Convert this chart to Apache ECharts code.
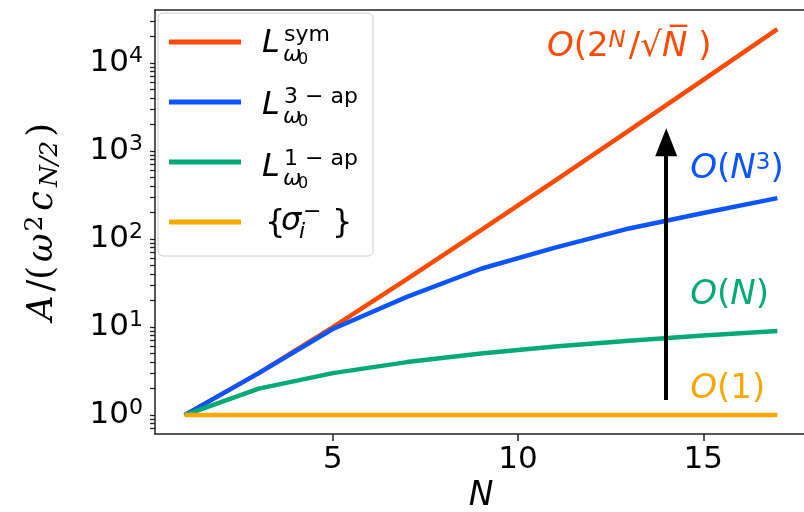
<!DOCTYPE html>
<html>
<head>
<meta charset="utf-8">
<script src="https://cdn.jsdelivr.net/npm/echarts@6/dist/echarts.min.js"></script>
<style>
  html, body { margin: 0; padding: 0; background: #fff; }
  #chart { width: 804px; height: 512px; }
</style>
</head>
<body>
<div id="chart"></div>
<script>
// data
const nValues = [1, 3, 5, 7, 9, 11, 13, 15, 17];
const symValues = [1, 3, 10, 35, 126, 462, 1716, 6435, 24310];
const ap3Values = [1, 3, 9.5, 22, 46, 80, 132, 198, 292];
const ap1Values = [1, 2, 3, 4, 5, 6, 7, 8, 9];
const sigmaValues = [1, 1, 1, 1, 1, 1, 1, 1, 1];

const xTicks = [5, 10, 15];
const yMajorTicks = [1, 10, 100, 1000, 10000];
const yTickExponents = ['0', '1', '2', '3', '4'];
const yMinorTicks = [0.7, 0.8, 0.9, 2, 3, 4, 5, 6, 7, 8, 9, 20, 30, 40, 50, 60, 70, 80, 90,
  200, 300, 400, 500, 600, 700, 800, 900, 2000, 3000, 4000, 5000, 6000, 7000, 8000, 9000,
  20000, 30000];

const seriesNames = ['sym', 'ap3', 'ap1', 'sigma'];
const colors = ['#ff4a00', '#0a55ff', '#00aa77', '#f8a800'];
// legend label pieces: superscript of L for the first three rows
const legendSups = ['sym', '3 − ap', '1 − ap'];

// annotation anchors [N, value] (left edge of text)
const annoSym = [10.78, 15100];
const annoAp3 = [14.65, 624];
const annoAp1 = [14.65, 23];
const annoSigma = [14.65, 1.97];
const arrowFrom = [14, 1.48];
const arrowTo = [14, 1260];

const FONT = 'DejaVu Sans';

const myChart = echarts.init(document.getElementById('chart'));

function pairs(ys) {
  return nValues.map((n, i) => [n, ys[i]]);
}

function anno(coord, text, color) {
  return {
    symbol: 'circle',
    symbolSize: 0,
    silent: true,
    data: [{ coord: coord }],
    label: {
      show: true,
      position: 'right',
      distance: 0,
      color: color,
      fontFamily: FONT,
      fontSize: 34,
      formatter: text,
      rich: {
        o: { fontSize: 34, fontStyle: 'italic', color: color, fontFamily: FONT, lineHeight: 36 },
        n: { fontSize: 34, color: color, fontFamily: FONT, lineHeight: 36 },
        s: { fontSize: 23, color: color, fontFamily: FONT, verticalAlign: 'top', lineHeight: 12 },
        si: { fontSize: 23, color: color, fontFamily: FONT, fontStyle: 'italic', verticalAlign: 'top', lineHeight: 12, padding: [0, 3, 0, 0] }
      }
    }
  };
}

// text piece placed by its baseline (canvas middle sits ~0.3em above the baseline)
function piece(text, x, baseline, size, italic) {
  return {
    type: 'text',
    silent: true,
    z: 100,
    style: {
      text: text,
      x: x,
      y: baseline - 0.3 * size,
      fill: '#000',
      font: (italic ? 'italic ' : '') + size + 'px "DejaVu Sans"',
      align: 'left',
      verticalAlign: 'middle'
    }
  };
}

// math labels beside the legend icons
const legendLabels = [];
[53, 115, 177].forEach((b, i) => {
  legendLabels.push(piece('L', 262, b, 32, true));
  legendLabels.push(piece(legendSups[i], 284, b - 11, 22, false));
  legendLabels.push(piece('ω', 283, b + 9, 22, true));
  legendLabels.push(piece('0', 298, b + 12, 16, false));
});
legendLabels.push(piece('{', 265, 233, 32, false));
legendLabels.push(piece('σ', 281, 231, 32, true));
legendLabels.push(piece('−', 303, 219, 22, false));
legendLabels.push(piece('i', 299, 239, 22, true));
legendLabels.push(piece('}', 332, 233, 32, false));
// the right spine lies just outside the picture in the reference
legendLabels.push({
  type: 'rect',
  silent: true,
  z: 200,
  shape: { x: 799, y: 11.5, width: 6, height: 421 },
  style: { fill: '#fff' }
});

const lineSeries = [symValues, ap3Values, ap1Values, sigmaValues].map((ys, i) => ({
  name: seriesNames[i],
  type: 'line',
  data: pairs(ys),
  symbol: 'none',
  lineStyle: { width: 4.5, color: colors[i] },
  itemStyle: { color: colors[i] },
  z: 2 + i
}));

lineSeries[0].markPoint = anno(annoSym, '{o|O}{n|(2}{si|N}{n|/√}{o|N̅}{n| )}', colors[0]);
lineSeries[1].markPoint = anno(annoAp3, '{o|O}{n|(}{o|N}{s|3}{n|)}', colors[1]);
lineSeries[2].markPoint = anno(annoAp1, '{o|O}{n|(}{o|N}{n|)}', colors[2]);
lineSeries[3].markPoint = anno(annoSigma, '{o|O}{n|(1)}', colors[3]);
lineSeries[3].markLine = {
  silent: true,
  symbol: ['none', 'triangle'],
  symbolSize: [22, 28],
  z: 10,
  label: { show: false },
  lineStyle: { color: '#000', width: 4, type: 'solid' },
  data: [[{ coord: arrowFrom }, { coord: arrowTo }]]
};

const spine = () => ({ show: true, onZero: false, lineStyle: { color: '#222', width: 1.5 } });

myChart.setOption({
  animation: false,
  textStyle: { fontFamily: FONT },
  grid: {
    left: 155, top: 10, width: 652, height: 424,
    outerBoundsMode: 'none',
    containLabel: false
  },
  legend: {
    data: seriesNames,
    orient: 'vertical',
    left: 158,
    top: 13,
    padding: [5, 0, 10, 11],
    itemGap: 12,
    itemWidth: 72,
    itemHeight: 5,
    icon: 'rect',
    backgroundColor: 'rgba(255,255,255,0.85)',
    borderColor: '#cccccc',
    borderWidth: 1,
    borderRadius: 5,
    selectedMode: false,
    // the label room is kept empty here; the math labels are drawn as graphic text
    formatter: () => '{box|}',
    textStyle: {
      rich: { box: { width: 127, height: 48, lineHeight: 48 } }
    }
  },
  graphic: legendLabels,
  xAxis: [
    {
      type: 'value',
      min: 0.2,
      max: 17.8,
      name: 'N',
      nameLocation: 'middle',
      nameGap: 41,
      nameTextStyle: { fontFamily: FONT, fontSize: 33, fontStyle: 'italic', color: '#000' },
      axisLine: spine(),
      splitLine: { show: false },
      axisTick: { show: true, customValues: xTicks, length: 7, lineStyle: { color: '#222', width: 1.5 } },
      axisLabel: { customValues: xTicks, fontFamily: FONT, fontSize: 31, color: '#000', margin: 10 }
    },
    {
      type: 'value',
      min: 0.2,
      max: 17.8,
      position: 'top',
      axisLine: spine(),
      splitLine: { show: false },
      axisTick: { show: false },
      axisLabel: { show: false }
    }
  ],
  yAxis: {
    type: 'log',
    min: 0.61,
    max: 40000,
    name: '{i|A}{n|/(}{i|ω}{s|2}{i|c}{u|N/2}{n|)}',
    nameLocation: 'middle',
    nameRotate: 90,
    nameGap: 92,
    nameTextStyle: {
      fontFamily: 'DejaVu Serif',
      fontSize: 35,
      color: '#000',
      rich: {
        i: { fontFamily: 'DejaVu Serif', fontStyle: 'italic', fontSize: 35, color: '#000', lineHeight: 40, padding: [0, 2] },
        n: { fontFamily: 'DejaVu Serif', fontSize: 35, color: '#000', lineHeight: 40, padding: [0, 2] },
        s: { fontFamily: 'DejaVu Serif', fontSize: 25, color: '#000', verticalAlign: 'top', lineHeight: 10, padding: [0, 3, 0, 0] },
        u: { fontFamily: 'DejaVu Serif', fontStyle: 'italic', fontSize: 25, color: '#000', verticalAlign: 'bottom', lineHeight: 14, padding: [0, 2] }
      }
    },
    axisLine: spine(),
    splitLine: { show: false },
    axisTick: { show: true, customValues: yMajorTicks.concat(yMinorTicks), length: 5, lineStyle: { color: '#222', width: 1.3 } },
    axisLabel: {
      customValues: yMajorTicks,
      margin: 12,
      formatter: v => '{b|10}{s|' + yTickExponents[yMajorTicks.indexOf(v)] + '}',
      rich: {
        b: { fontFamily: FONT, fontSize: 31, color: '#000', lineHeight: 36 },
        s: { fontFamily: FONT, fontSize: 22, color: '#000', verticalAlign: 'top', lineHeight: 22 }
      }
    }
  },
  series: lineSeries
});
</script>
</body>
</html>
